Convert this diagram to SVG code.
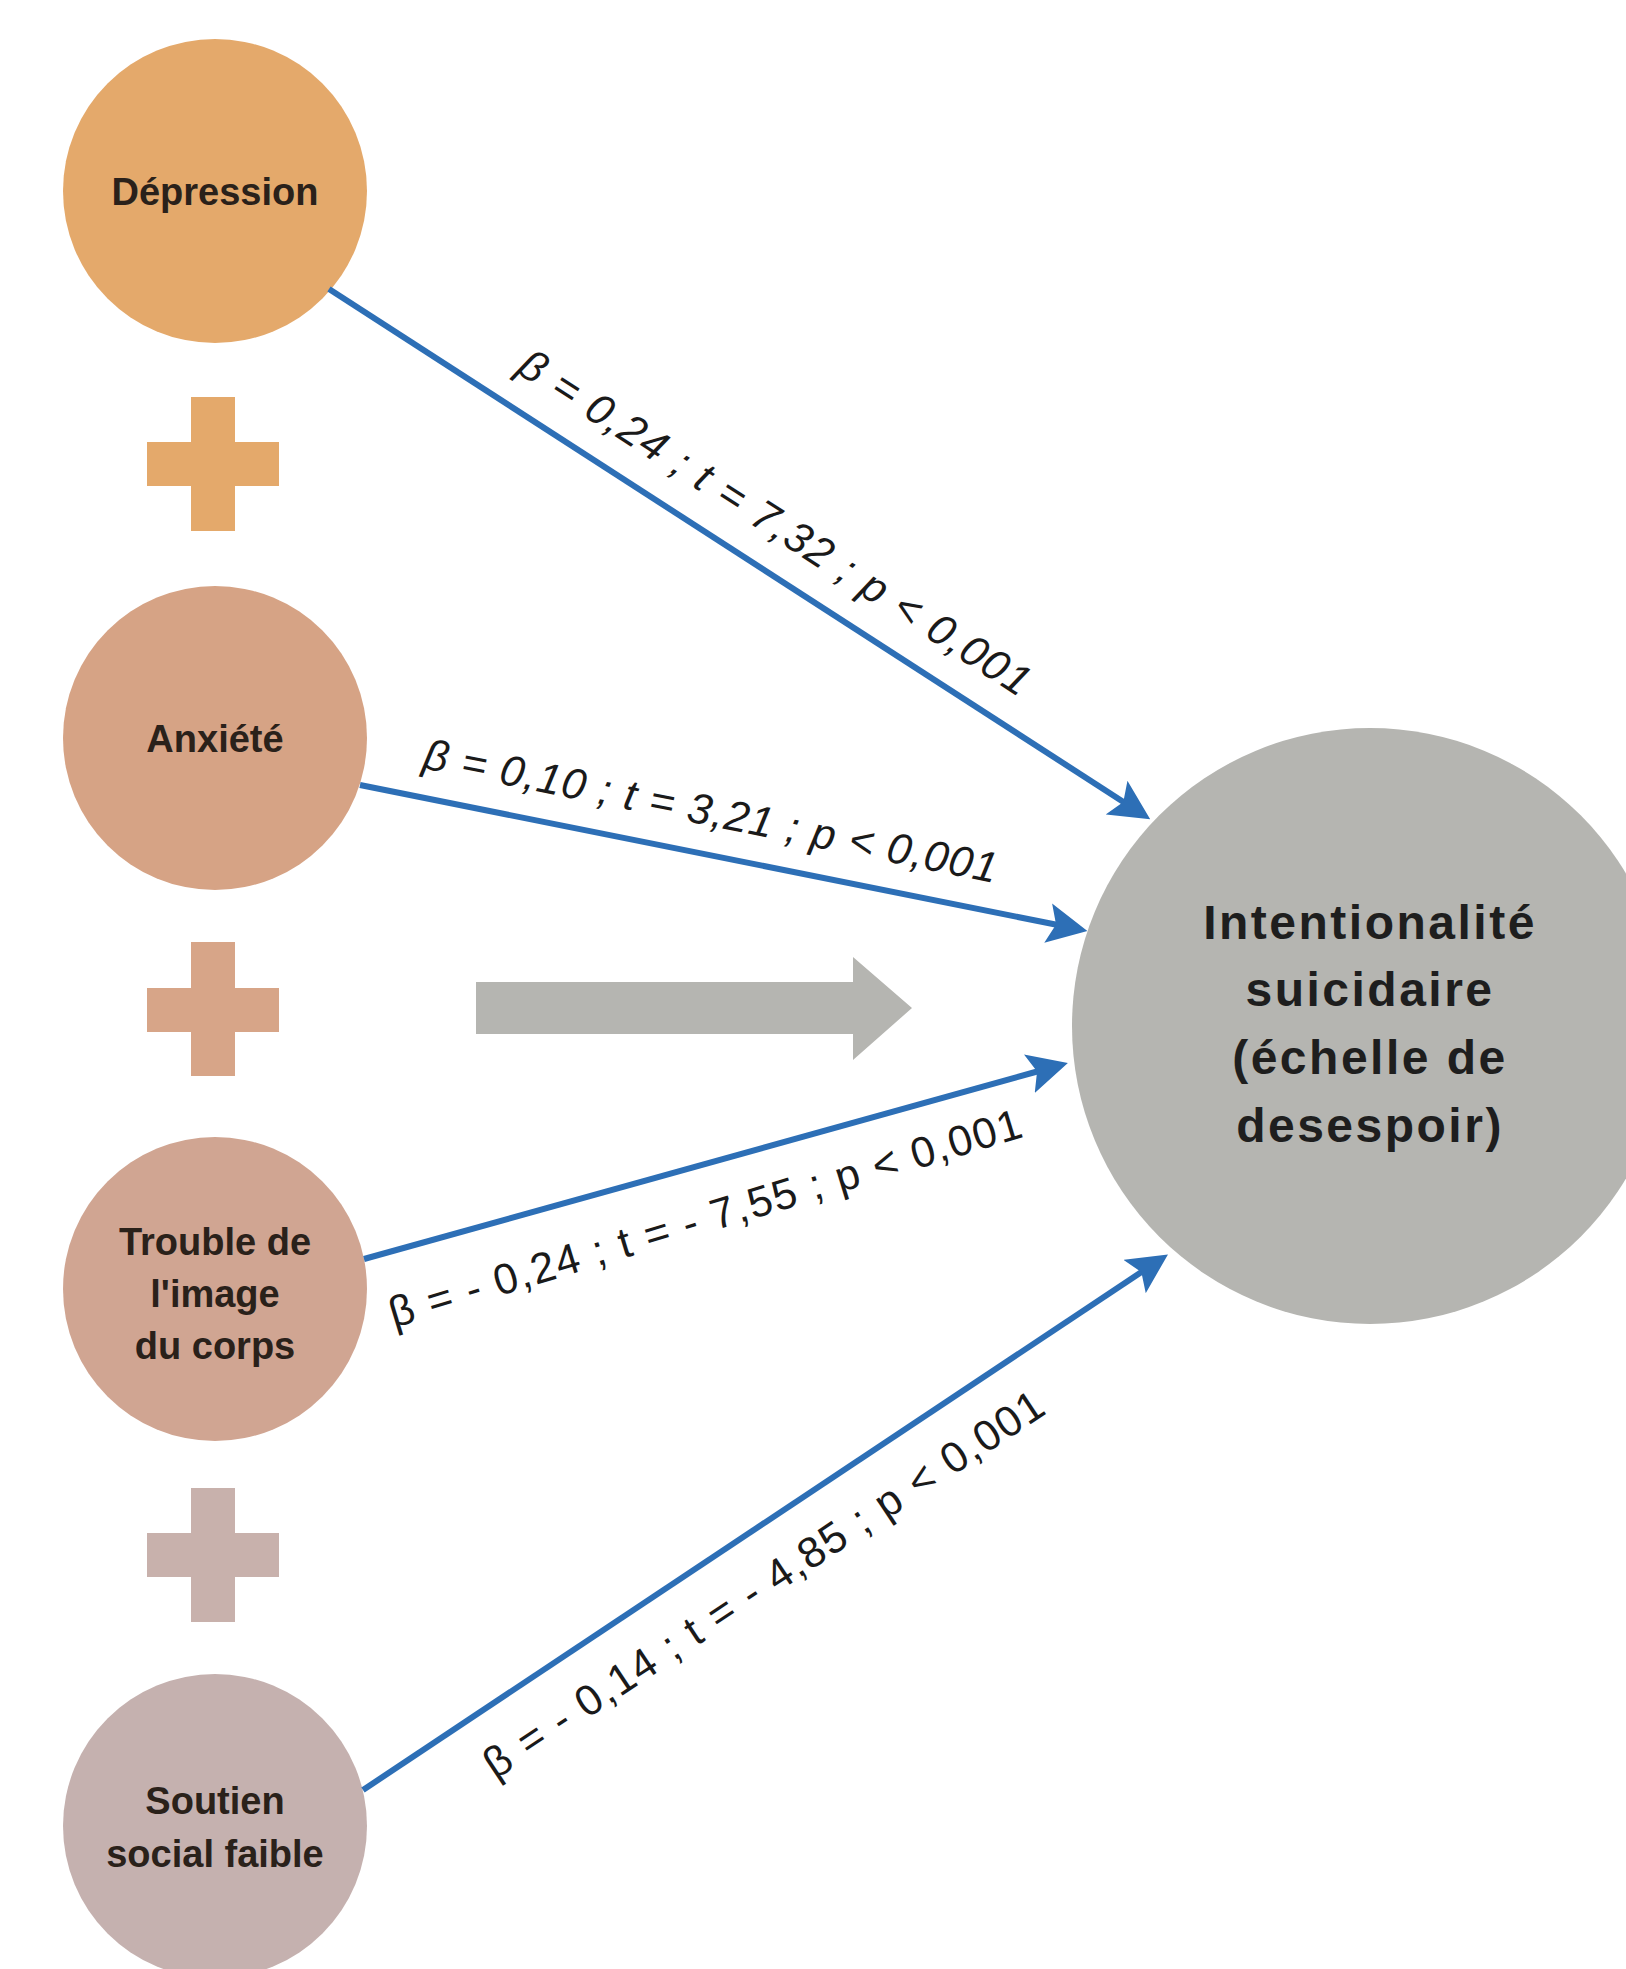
<svg xmlns="http://www.w3.org/2000/svg" width="1626" height="1969" viewBox="0 0 1626 1969">
  <style>
    .node-text { font-family: "Liberation Sans", Arial, sans-serif; font-weight: bold; font-size: 38px; fill: #2a211a; text-anchor: middle; }
    .big-text { font-family: "Liberation Sans", Arial, sans-serif; font-weight: bold; font-size: 48px; letter-spacing: 2.5px; fill: #1e1e1e; text-anchor: middle; }
    .lbl { font-family: "Liberation Sans", Arial, sans-serif; font-size: 43px; fill: #1a1a1a; }
    .it { font-style: italic; }
    .conn { stroke: #2d6fb6; stroke-width: 6; fill: none; marker-end: url(#ah); }
  </style>
  <defs>
    <marker id="ah" markerUnits="userSpaceOnUse" viewBox="0 0 40 40" refX="10" refY="20" markerWidth="40" markerHeight="40" orient="auto">
      <path d="M0,0 L40,20 L0,40 L8,20 Z" fill="#2d6fb6"/>
    </marker>
  </defs>
  <rect width="1626" height="1969" fill="#ffffff"/>

  <g id="plus1" fill="#e4a96b">
    <rect x="147" y="442" width="132" height="44"/>
    <rect x="191" y="397" width="44" height="134"/>
  </g>
  <g id="plus2" fill="#d7a588">
    <rect x="147" y="988" width="132" height="44"/>
    <rect x="191" y="942" width="44" height="134"/>
  </g>
  <g id="plus3" fill="#c8b1ac">
    <rect x="147" y="1533" width="132" height="44"/>
    <rect x="191" y="1488" width="44" height="134"/>
  </g>

  <g id="gray-arrow">
    <path d="M476,982 L853,982 L853,957 L912,1008 L853,1060 L853,1034 L476,1034 Z" fill="#b5b5b1"/>
  </g>

  <g id="node-depression">
    <circle cx="215" cy="191" r="152" fill="#e4a96b"/>
    <text class="node-text" x="215" y="205">Dépression</text>
  </g>
  <g id="node-anxiete">
    <circle cx="215" cy="738" r="152" fill="#d6a385"/>
    <text class="node-text" x="215" y="752">Anxiété</text>
  </g>
  <g id="node-trouble">
    <circle cx="215" cy="1289" r="152" fill="#d0a592"/>
    <text class="node-text" x="215" y="1255">Trouble de</text>
    <text class="node-text" x="215" y="1307">l'image</text>
    <text class="node-text" x="215" y="1359">du corps</text>
  </g>
  <g id="node-soutien">
    <circle cx="215" cy="1826" r="152" fill="#c5b1af"/>
    <text class="node-text" x="215" y="1814">Soutien</text>
    <text class="node-text" x="215" y="1867">social faible</text>
  </g>
  <g id="node-intentionalite">
    <circle cx="1370" cy="1026" r="298" fill="#b5b5b1"/>
    <text class="big-text" x="1370" y="939">Intentionalité</text>
    <text class="big-text" x="1370" y="1006">suicidaire</text>
    <text class="big-text" x="1370" y="1074">(échelle de</text>
    <text class="big-text" x="1370" y="1142">desespoir)</text>
  </g>

  <g id="connectors">
    <line class="conn" x1="329" y1="289" x2="1125" y2="803"/>
    <line class="conn" x1="360" y1="785" x2="1058" y2="925"/>
    <line class="conn" x1="364" y1="1259" x2="1039" y2="1071"/>
    <line class="conn" x1="363" y1="1790" x2="1143" y2="1271"/>
  </g>

  <g id="labels">
    <text class="lbl it" transform="translate(515,372) rotate(32.85)" textLength="600" lengthAdjust="spacing">β = 0,24 ; t = 7,32 ; p &lt; 0,001</text>
    <text class="lbl it" transform="translate(421.6,768) rotate(11.36)" textLength="584" lengthAdjust="spacing">β = 0,10 ; t = 3,21 ; p &lt; 0,001</text>
    <text class="lbl" transform="translate(394,1328) rotate(-16.9)" textLength="659" lengthAdjust="spacing">β = - 0,24 ; t = - 7,55 ; p &lt; 0,001</text>
    <text class="lbl" transform="translate(495.6,1779.9) rotate(-33.62)" textLength="663" lengthAdjust="spacing">β = - 0,14 ; t = - 4,85 ; p &lt; 0,001</text>
  </g>
</svg>
